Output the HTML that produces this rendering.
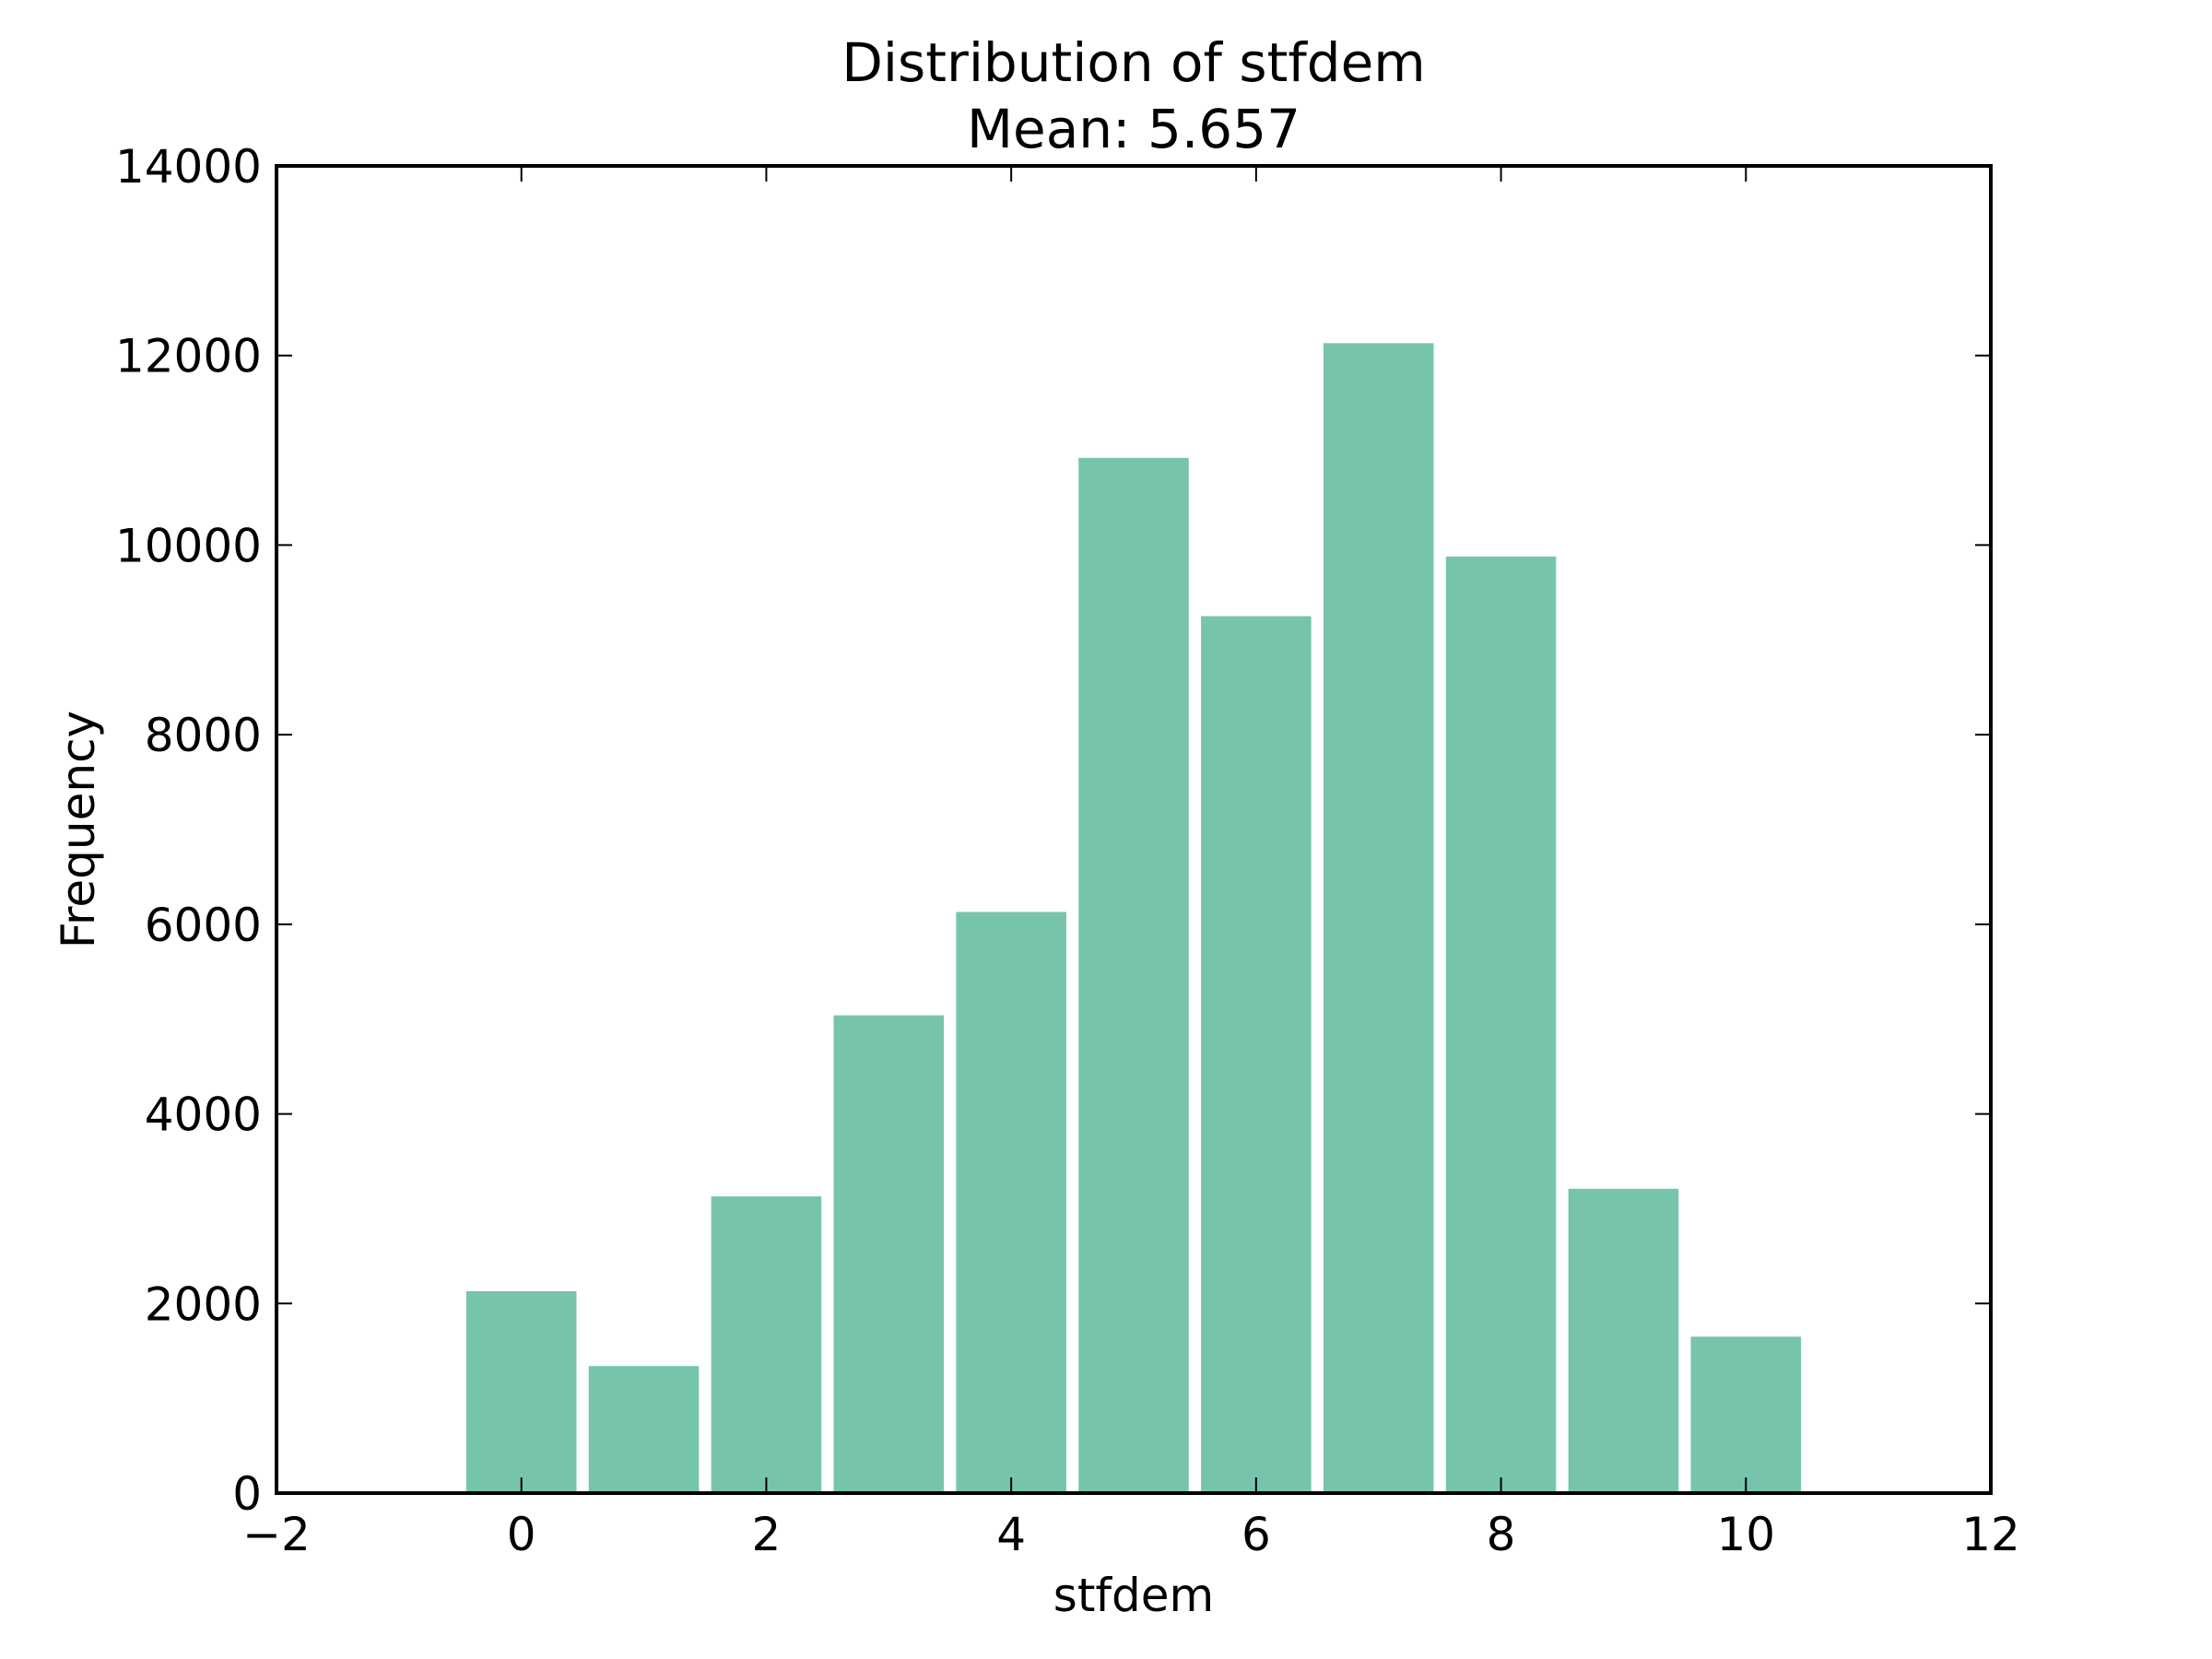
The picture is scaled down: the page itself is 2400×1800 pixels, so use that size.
<!DOCTYPE html>
<html><head><meta charset="utf-8"><style>body{margin:0;background:#fff}svg{display:block}</style></head>
<body>
<svg id="chart" width="2400" height="1800" xmlns="http://www.w3.org/2000/svg" font-family="DejaVu Sans, Liberation Sans, sans-serif">
<rect width="2400" height="1800" fill="#fff"/>
<text x="1230" y="88" font-size="58" text-anchor="middle">Distribution of stfdem</text>
<text x="1230" y="160" font-size="58" text-anchor="middle">Mean: 5.657</text>
<g id="bars"></g>
<g id="axes"></g>
<text x="1230" y="1748" font-size="50" text-anchor="middle">stfdem</text>
<text transform="translate(102,900) rotate(-90)" font-size="50" text-anchor="middle">Frequency</text>
</svg>
<script>
const categories = [0,1,2,3,4,5,6,7,8,9,10];
const counts = [2130,1340,3130,5040,6130,10920,9250,12130,9880,3210,1650];
const xTicks = [-2,0,2,4,6,8,10,12];
const xTickLabels = ['\u22122','0','2','4','6','8','10','12'];
const yTicks = [0,2000,4000,6000,8000,10000,12000,14000];
const yTickLabels = ['0','2000','4000','6000','8000','10000','12000','14000'];
const L=300,R=2160,T=180,B=1620,NS='http://www.w3.org/2000/svg';
const xs=v=>L+(v+2)/14*(R-L);
const ys=v=>B-v/14000*(B-T);
function mk(tag,attrs,parent){const e=document.createElementNS(NS,tag);for(const k in attrs)e.setAttribute(k,attrs[k]);parent.appendChild(e);return e;}
const bars=document.getElementById('bars'),axes=document.getElementById('axes');
categories.forEach((c,i)=>{
  const r=mk('rect',{x:xs(c-0.45),y:ys(counts[i]),width:xs(c+0.45)-xs(c-0.45),height:B-ys(counts[i]),fill:'#77c4ad'},bars);
  
  
});
xTicks.forEach((t,i)=>{
  const x=xs(t);
  mk('line',{x1:x,x2:x,y1:B,y2:B-17,stroke:'#000','stroke-width':2},axes);
  mk('line',{x1:x,x2:x,y1:T,y2:T+17,stroke:'#000','stroke-width':2},axes);
  const tx=mk('text',{x:x,y:B+62,'font-size':50,'text-anchor':'middle'},axes);
  tx.textContent=xTickLabels[i];
  
  
});
yTicks.forEach((t,i)=>{
  const y=ys(t);
  mk('line',{x1:L,x2:L+17,y1:y,y2:y,stroke:'#000','stroke-width':2},axes);
  mk('line',{x1:R,x2:R-17,y1:y,y2:y,stroke:'#000','stroke-width':2},axes);
  const tx=mk('text',{x:L-16,y:y+18,'font-size':50,'text-anchor':'end'},axes);
  tx.textContent=yTickLabels[i];
  
  
});
const fr=mk('rect',{x:L,y:T,width:R-L,height:B-T,fill:'none',stroke:'#000','stroke-width':4},axes);


</script>
</body></html>
